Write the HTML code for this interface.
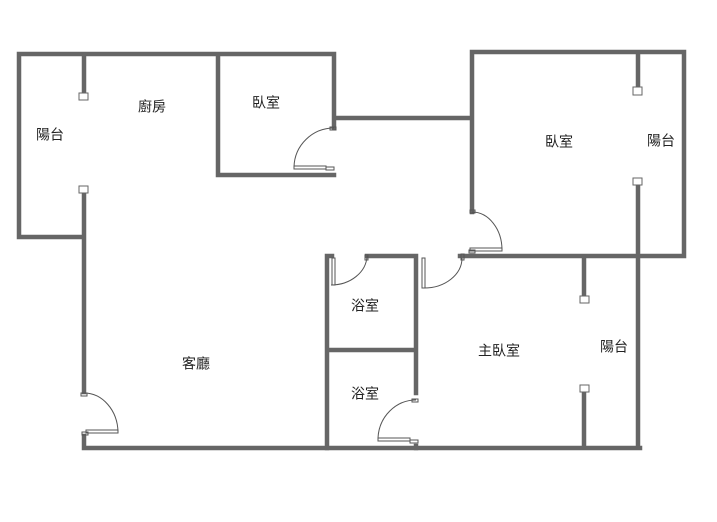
<!DOCTYPE html>
<html><head><meta charset="utf-8"><style>
body{margin:0;background:#fff;width:717px;height:517px;overflow:hidden}
text{font-family:"Liberation Sans","Noto Sans CJK TC",sans-serif;font-size:14px;fill:#222;text-anchor:middle;dominant-baseline:middle}
</style></head><body>
<svg width="717" height="517" viewBox="0 0 717 517">
<g stroke="#666" stroke-width="4.5" fill="none" stroke-linecap="square">
<path d="M19 54H334V128M19 54V237H82M84 54V93M84 193V392M218 54V175H334M334 118H472M472 52V212M472 52H684V256H463M638 52V87M638 185V448M584 256V296M584 392V448M84 436V448H640"/>
<path d="M327 256V448M327 256H332M367 256H416V393M327 350H416M416 446V448"/>
<path d="M463 256H460"/>
</g>
<g stroke="#666" stroke-width="1" fill="#fff">
<rect x="79" y="93" width="9" height="7"/><rect x="79" y="186" width="9" height="7"/>
<rect x="633" y="87" width="9" height="8"/><rect x="633" y="178" width="9" height="7"/>
<rect x="580" y="296" width="9" height="7"/><rect x="580" y="385" width="9" height="7"/>
</g>
<g stroke="#555" stroke-width="1" fill="none">
<path d="M334 128A40 40 0 0 0 294 167"/><rect x="294" y="166" width="32" height="3"/><rect x="326" y="167" width="8" height="3"/><rect x="330" y="127" width="6" height="3"/>
<path d="M472 212A30 38 0 0 1 502 250"/><rect x="470" y="248" width="32" height="3"/><rect x="469" y="250" width="6" height="3"/><rect x="470" y="210" width="5" height="3"/>
<path d="M331 285A36 30 0 0 0 367 256"/><rect x="332" y="258" width="3" height="27"/><rect x="365" y="255" width="3" height="5"/>
<path d="M424 288A38 30 0 0 0 462 258"/><rect x="422" y="258" width="3" height="30"/><rect x="461" y="254" width="3" height="6"/>
<path d="M416 400A38 40 0 0 0 378 438"/><rect x="378" y="438" width="32" height="3"/><rect x="410" y="440" width="8" height="3"/><rect x="412" y="399" width="6" height="3"/>
<path d="M84 393A34 40 0 0 1 118 432"/><rect x="86" y="430" width="32" height="3"/><rect x="82" y="432" width="6" height="3"/><rect x="81" y="393" width="6" height="3"/>
</g>
<text x="50" y="136">陽台</text><text x="152" y="108">廚房</text><text x="266" y="104">臥室</text>
<text x="559" y="143">臥室</text><text x="661" y="142">陽台</text>
<text x="365" y="307">浴室</text><text x="365" y="395">浴室</text>
<text x="196" y="365">客廳</text><text x="499" y="352">主臥室</text><text x="614" y="348">陽台</text>
</svg>
</body></html>
